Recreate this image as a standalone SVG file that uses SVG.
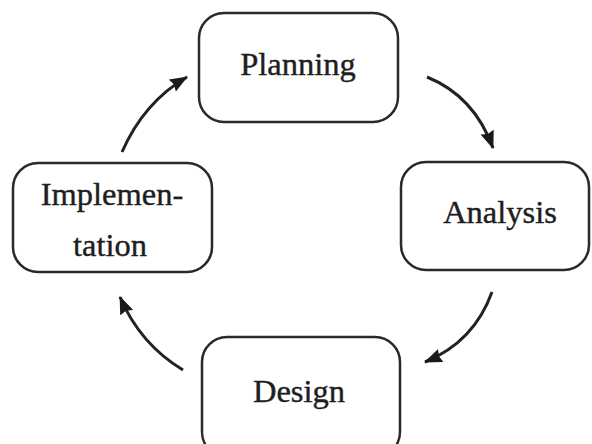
<svg xmlns="http://www.w3.org/2000/svg" width="592" height="444" viewBox="0 0 592 444">
<style>
.box{fill:#fff;stroke:#2a2a2a;stroke-width:2.5}
.lbl{font-family:"Liberation Serif","Times New Roman",serif;font-size:32.5px;fill:#1e1e1e;stroke:#1e1e1e;stroke-width:0.4;text-anchor:middle}
.arr{fill:none;stroke:#222;stroke-width:3;marker-end:url(#ah)}
</style>
<defs>
<marker id="ah" markerUnits="userSpaceOnUse" viewBox="0 0 18 14" refX="17" refY="7" markerWidth="18" markerHeight="14" orient="auto">
<path d="M0,0 L18,7 L0,14 L2,7 z" fill="#1a1a1a"/>
</marker>
</defs>
<rect width="592" height="444" fill="#fff"/>
<g id="planning">
<rect class="box" x="199" y="13" width="199" height="109" rx="25"/>
<text class="lbl" x="298" y="75">Planning</text>
</g>
<g id="analysis">
<rect class="box" x="401" y="162" width="188" height="108" rx="25"/>
<text class="lbl" x="500" y="223">Analysis</text>
</g>
<g id="design">
<rect class="box" x="202" y="337" width="198" height="120" rx="25"/>
<text class="lbl" x="299" y="402">Design</text>
</g>
<g id="implementation">
<rect class="box" x="13" y="163" width="199" height="109" rx="25"/>
<text class="lbl" x="112" y="205">Implemen-</text>
<text class="lbl" x="110" y="256">tation</text>
</g>
<g id="connectors">
<path class="arr" d="M427,77 Q474,96 493,148"/>
<path class="arr" d="M492,292 Q474,342 425,362"/>
<path class="arr" d="M183,370 Q140,344 120,297"/>
<path class="arr" d="M122,152 Q144,102 187,77"/>
</g>
</svg>
